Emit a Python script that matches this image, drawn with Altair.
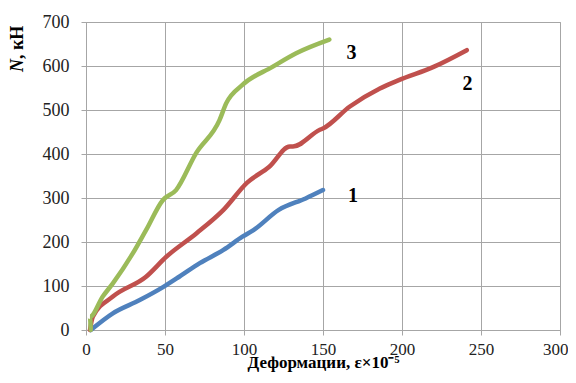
import altair as alt
import pandas as pd

s1_x = [3, 17, 34, 49, 59, 72, 87, 99, 106, 122, 139, 150]
s1_y = [0, 38, 68, 98, 121, 152, 182, 212, 227, 273, 299, 318]

s2_x = [2.5, 4.3, 17, 38, 51, 70, 87, 102, 116, 129, 131, 148, 150, 167, 186, 198, 220, 241]
s2_y = [0, 30, 76, 121, 167, 220, 273, 335, 371, 417, 417, 455, 458, 508, 549, 568, 598, 636]

s3_x = [3, 2.5, 10.6, 17, 29.6, 38, 48.6, 57, 69.7, 84.5, 88.7, 99, 118, 133, 154]
s3_y = [0, 30, 76, 106, 174, 227, 295, 318, 402, 477, 515, 557, 598, 629, 660]

names = ["1", "2", "3"]
colors = ["#4F81BD", "#C0504D", "#9BBB59"]

label_x = [169, 241.5, 168]
label_y = [305, 559, 630]

rows = []
for name, xs, ys in zip(names, [s1_x, s2_x, s3_x], [s1_y, s2_y, s3_y]):
    for i, (x, y) in enumerate(zip(xs, ys)):
        rows.append({"s": name, "x": x, "y": y, "o": i})
df = pd.DataFrame(rows)
lab = pd.DataFrame({"s": names, "x": label_x, "y": label_y})

FONT = "Liberation Serif"

xs = alt.Scale(domain=[0, 300], nice=False)
ys = alt.Scale(domain=[0, 700], nice=False)

lines = alt.Chart(df).mark_line(strokeWidth=4.5, interpolate="monotone", strokeCap="round").encode(
    x=alt.X("x:Q", scale=xs, axis=alt.Axis(
        title="Деформации, ε×10⁻⁵", values=list(range(0, 301, 50)),
        titleFont=FONT, titleFontSize=17, titleFontWeight="bold", titleColor="black",
        titlePadding=-3,
        labelFont=FONT, labelFontSize=17, labelColor="#222", labelPadding=6,
        labelFlush=False,
        labelAlign={"condition": {"test": "datum.value == 300", "value": "right"}, "value": "center"},
        labelOffset={"condition": {"test": "datum.value == 300", "value": 8}, "value": 0},
        grid=True, gridColor="#a6a6a6", tickColor="#a6a6a6", tickSize=5,
        domainColor="#a6a6a6")),
    y=alt.Y("y:Q", scale=ys, axis=alt.Axis(
        title=None, values=list(range(0, 701, 100)),
        labelFont=FONT, labelFontSize=18, labelColor="#222", labelPadding=12,
        labelFlush=False,
        grid=True, gridColor="#a6a6a6", tickColor="#a6a6a6", tickSize=5,
        domainColor="#a6a6a6")),
    color=alt.Color("s:N", scale=alt.Scale(domain=names, range=colors), legend=None),
    order="o:Q",
)

labels = alt.Chart(lab).mark_text(font=FONT, fontSize=20, fontWeight="bold", color="black").encode(
    x=alt.X("x:Q", scale=xs), y=alt.Y("y:Q", scale=ys), text="s:N"
)

ytitle_n = alt.Chart(pd.DataFrame({"t": ["N"]})).mark_text(
    font=FONT, fontSize=18, fontWeight="bold", fontStyle="italic", color="black",
    angle=270, align="left", baseline="middle"
).encode(x=alt.value(-68), y=alt.value(50), text="t:N")

ytitle_rest = alt.Chart(pd.DataFrame({"t": [", кН"]})).mark_text(
    font=FONT, fontSize=18, fontWeight="bold", color="black",
    angle=270, align="left", baseline="middle"
).encode(x=alt.value(-68), y=alt.value(37), text="t:N")

chart = (lines + labels + ytitle_n + ytitle_rest).properties(
    width=474, height=308,
    autosize=alt.AutoSizeParams(type="none"),
    padding={"left": 78, "top": 14, "right": 8, "bottom": 45},
).configure_view(stroke="#a6a6a6")

chart.save("out.html", embed_options={"renderer": "svg", "actions": False})
